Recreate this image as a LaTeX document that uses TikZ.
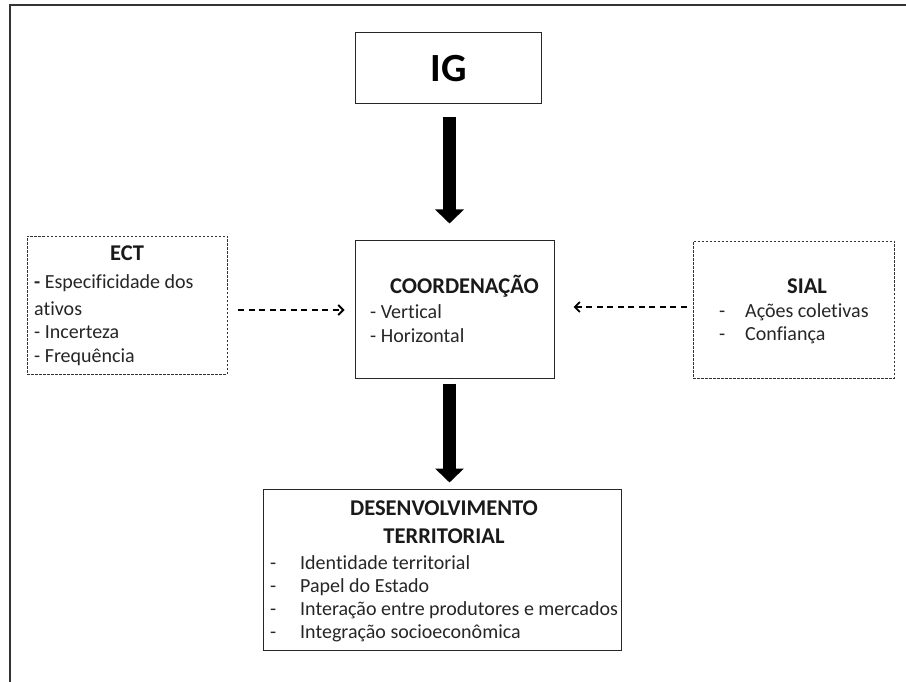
\documentclass[tikz,border=0pt]{standalone}
\usepackage{fontspec}
\setmainfont[Ligatures=NoCommon]{Carlito}
\usetikzlibrary{arrows.meta}

\begin{document}
\begin{tikzpicture}[x=1pt,y=-1pt,
  box/.style={draw=black!85, line width=1pt, inner sep=0pt},
  dbox/.style={draw=black!80, line width=0.9pt, dash pattern=on 2.5pt off 1.5pt, inner sep=0pt},
  title/.style={font=\bfseries\fontsize{22.5}{26}\selectfont, inner sep=0pt, anchor=base, text=black!90},
  body/.style={font=\fontsize{20}{24}\selectfont, inner sep=0pt, anchor=base west, text=black!85},
  bigarrow/.style={line width=13pt, -{Triangle[width=28pt,length=14pt]}},
  dasharrow/.style={line width=1.4pt, dash pattern=on 6pt off 4.5pt, -{Straight Barb[length=5pt,width=10pt,line width=1.8pt]}}
]
\useasboundingbox (0,0) rectangle (906,682);
\fill[white] (0,0) rectangle (906,682);

% outer frame (open at right and bottom)
\draw[line width=1.3pt, black!80] (10,682) -- (10,5) -- (906,5);

% main boxes
\node[box, minimum width=186pt, minimum height=71pt] (ig) at (448,68.5) {};
\node[box, minimum width=199pt, minimum height=137pt] (coord) at (454.5,309.5) {};
\node[dbox, minimum width=200pt, minimum height=138pt] (ect) at (127,305) {};
\node[dbox, minimum width=201pt, minimum height=137pt] (sial) at (793.5,309.5) {};
\node[box, minimum width=358pt, minimum height=161pt] (dt) at (442,569.5) {};

% IG label
\node[font=\bfseries\fontsize{40}{44}\selectfont, inner sep=0pt, anchor=base] (igt) at (449,82) {IG};

% texts: COORDENACAO
\node[title] (coordt) at (464.5,293) {COORDENAÇÃO};
\node[body] (coord1) at (370,318) {- Vertical};
\node[body] (coord2) at (370,342) {- Horizontal};

% texts: ECT
\node[title] (ectt) at (127,261) {ECT};
\node[body] (ect1) at (34,288) {\textbf{-} Especificidade dos};
\node[body] (ect2) at (34,315) {ativos};
\node[body] (ect3) at (34,338) {- Incerteza};
\node[body] (ect4) at (34,362) {- Frequência};

% texts: SIAL
\node[title] (sialt) at (807,293) {SIAL};
\node[body] (sialdash1) at (719,317) {-};
\node[body] (sial1) at (745,317) {Ações coletivas};
\node[body] (sialdash2) at (719,340) {-};
\node[body] (sial2) at (745,340) {Confiança};

% texts: DESENVOLVIMENTO TERRITORIAL
\node[title] (dtt1) at (444,515) {DESENVOLVIMENTO};
\node[title] (dtt2) at (444,543) {TERRITORIAL};
\foreach \y/\t [count=\i] in {569/Identidade territorial, 592/Papel do Estado, 615/Interação entre produtores e mercados, 638/Integração socioeconômica}{
  \node[body] (dtd\i) at (270,\y) {-};
  \node[body] (dtl\i) at (300,\y) {\t};
}

% connectors
\coordinate (a1s) at (449.5,104);
\draw[bigarrow, shorten <=13pt, shorten >=17pt] (ig.south -| a1s) -- (coord.north -| a1s);
\draw[bigarrow, shorten <=5pt, shorten >=6pt] (coord.south -| a1s) -- (dt.north -| a1s);
\draw[dasharrow, shorten <=11pt, shorten >=10pt] (ect.east |- 0,310) -- (coord.west |- 0,310);
\draw[dasharrow, shorten <=6pt, shorten >=19pt] (sial.west |- 0,307) -- (coord.east |- 0,307);
\end{tikzpicture}
\end{document}
